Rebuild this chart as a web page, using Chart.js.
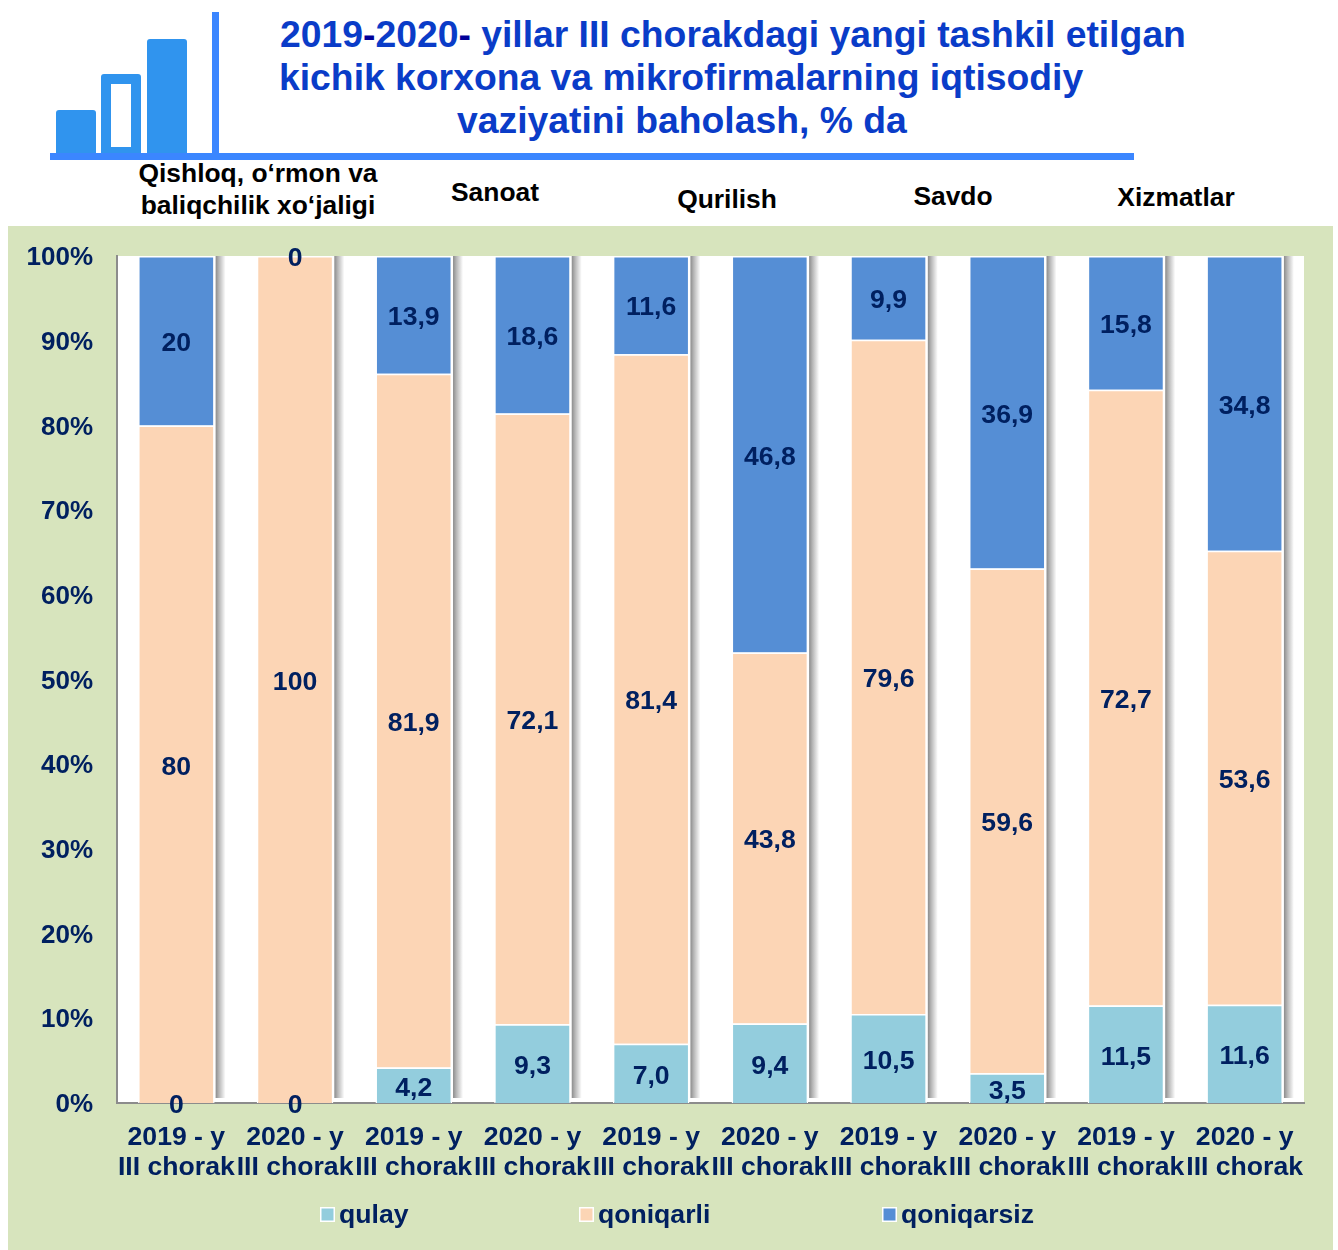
<!DOCTYPE html>
<html>
<head>
<meta charset="utf-8">
<script src="https://cdn.jsdelivr.net/npm/chart.js@4"></script>
<style>
html,body{margin:0;padding:0;background:#fff;width:1338px;height:1250px;overflow:hidden;font-family:"Liberation Sans",Arial,sans-serif}
#panel{position:absolute;left:8px;top:226px;width:1325px;height:1024px;background:#d7e4bd}
#wrap{position:absolute;left:8px;top:226px;width:1325px;height:1024px}
.t{position:absolute;white-space:nowrap;font-weight:bold;font-size:37.3px;line-height:43px;color:#0a3cc8}
.t b{color:#000099}
.h{position:absolute;white-space:nowrap;font-weight:bold;font-size:26.4px;line-height:32px;color:#000;text-align:center;transform:translateX(-50%)}
.l{position:absolute;background:#3b86ff}
.b{position:absolute;background:#3094ee;border-radius:3px 3px 0 0}
</style>
</head>
<body>
<div id="panel"></div>
<div class="b" style="left:56px;top:110px;width:40px;height:43px"></div>
<div class="b" style="left:101px;top:74px;width:40px;height:79px"></div>
<div style="position:absolute;left:111px;top:84px;width:20px;height:63px;background:#fff"></div>
<div class="b" style="left:147px;top:39px;width:40px;height:114px"></div>
<div class="l" style="left:212px;top:12px;width:7px;height:148px"></div>
<div class="l" style="left:50px;top:153px;width:1084px;height:7px"></div>
<div class="t" style="left:280px;top:13px">2019<b>-</b>2020<b>-</b> yillar III chorakdagi yangi tashkil etilgan</div>
<div class="t" style="left:279px;top:56px">kichik korxona va mikrofirmalarning iqtisodiy</div>
<div class="t" style="left:457px;top:99px">vaziyatini baholash, % da</div>
<div class="h" style="left:258px;top:157px">Qishloq, o‘rmon va<br>baliqchilik xo‘jaligi</div>
<div class="h" style="left:495px;top:176px">Sanoat</div>
<div class="h" style="left:727px;top:183px">Qurilish</div>
<div class="h" style="left:953px;top:180px">Savdo</div>
<div class="h" style="left:1176px;top:181px">Xizmatlar</div>
<div id="wrap"><canvas id="c" width="1325" height="1024" style="width:1325px;height:1024px;display:block"></canvas></div>
<script>
const yearLabels = ['2019 - y','2020 - y','2019 - y','2020 - y','2019 - y','2020 - y','2019 - y','2020 - y','2019 - y','2020 - y'];
const quarterLabel = 'III chorak';
const qulay      = [0, 0, 4.2, 9.3, 7.0, 9.4, 10.5, 3.5, 11.5, 11.6];
const qoniqarli  = [80, 100, 81.9, 72.1, 81.4, 43.8, 79.6, 59.6, 72.7, 53.6];
const qoniqarsiz = [20, 0, 13.9, 18.6, 11.6, 46.8, 9.9, 36.9, 15.8, 34.8];
const decimals   = [0, 0, 1, 1, 1, 1, 1, 1, 1, 1];
const yTicks     = [0, 10, 20, 30, 40, 50, 60, 70, 80, 90, 100];

const NAVY = '#002060';
const FAMILY = '"Liberation Sans", Arial, sans-serif';
const FONT = 'bold 26.6px ' + FAMILY;
const fmt = (v, i) => v.toFixed(decimals[i]).replace('.', ',');

const plotStyle = {
  id: 'plotStyle',
  beforeDraw(chart) {
    const a = chart.chartArea, c = chart.ctx;
    c.save(); c.fillStyle = '#fff';
    c.fillRect(a.left, a.top, a.right - a.left, a.bottom - a.top);
    c.restore();
    // nudge the value-axis labels down to sit on their ticks as in the reference
    const items = chart.scales.y.getLabelItems();
    if (!items._nudged) {
      items.forEach(it => { it.options.translation[1] += 2; });
      items._nudged = true;
    }
  },
  beforeDatasetsDraw(chart) {
    // soft shadow to the right of every column
    const c = chart.ctx, a = chart.chartArea;
    const n = chart.data.labels.length;
    const top = chart.getDatasetMeta(chart.data.datasets.length - 1);
    c.save();
    for (let i = 0; i < n; i++) {
      const b = top.data[i].getProps(['x', 'width', 'base', 'y']);
      const x0 = b.x + b.width / 2 + 1;
      const g = c.createLinearGradient(x0, 0, x0 + 10, 0);
      g.addColorStop(0, 'rgba(0,0,0,0.45)');
      g.addColorStop(0.35, 'rgba(0,0,0,0.28)');
      g.addColorStop(1, 'rgba(0,0,0,0)');
      c.fillStyle = g;
      c.fillRect(x0, a.top, 10, a.bottom - a.top - 5);
    }
    c.restore();
  },
  afterDraw(chart) {
    const c = chart.ctx;
    c.save();
    c.font = FONT; c.fillStyle = NAVY; c.textAlign = 'center'; c.textBaseline = 'middle';
    chart.data.datasets.forEach((ds, di) => {
      chart.getDatasetMeta(di).data.forEach((bar, i) => {
        const p = bar.getCenterPoint();
        c.fillText(fmt(ds.data[i], i), p.x, p.y + 3);
      });
    });
    // legend
    const xs = [320, 579, 882].map(x => x - 8);
    const y = 1215 - 226;
    chart.data.datasets.forEach((ds, di) => {
      c.fillStyle = '#fff';
      c.fillRect(xs[di], y - 8, 15, 15);
      c.fillStyle = ds.backgroundColor;
      c.fillRect(xs[di] + 1.5, y - 6.5, 12, 12);
      c.fillStyle = NAVY; c.textAlign = 'left';
      c.fillText(ds.label, xs[di] + 19, y + 1);
    });
    c.restore();
  }
};

new Chart(document.getElementById('c'), {
  type: 'bar',
  plugins: [plotStyle],
  data: {
    labels: yearLabels.map(y => [y, quarterLabel]),
    datasets: [
      { label: 'qulay', data: qulay, backgroundColor: '#93cddd' },
      { label: 'qoniqarli', data: qoniqarli, backgroundColor: '#fcd5b5' },
      { label: 'qoniqarsiz', data: qoniqarsiz, backgroundColor: '#558ed5' }
    ]
  },
  options: {
    responsive: false,
    animation: false,
    layout: { padding: { left: 0, right: 29, top: 30, bottom: 0 } },
    datasets: { bar: { barPercentage: 0.645, categoryPercentage: 1, borderColor: '#fff', borderWidth: 1.5 } },
    plugins: { legend: { display: false }, title: { display: false }, tooltip: { enabled: false } },
    scales: {
      x: {
        stacked: true,
        grid: { display: false, drawTicks: false },
        border: { color: '#8c8c8c', width: 2 },
        afterFit(s) { s.height = 147; s.paddingLeft = 0; s.paddingRight = 0; s.paddingTop = 0; s.paddingBottom = 0; },
        ticks: { autoSkip: false, maxRotation: 0, minRotation: 0, padding: 20, color: NAVY,
                 font: { family: FAMILY, size: 26.6, weight: 'bold', lineHeight: 1.13 } }
      },
      y: {
        stacked: true, min: 0, max: 100,
        afterFit(s) { s.width = 109; s.paddingTop = 0; s.paddingBottom = 0; s.paddingLeft = 0; s.paddingRight = 0; },
        afterBuildTicks(s) { s.ticks = yTicks.map(v => ({ value: v })); },
        grid: { display: false, drawTicks: false },
        border: { color: '#8c8c8c', width: 2 },
        ticks: { padding: 24, color: NAVY, callback: v => v + '%',
                 font: { family: FAMILY, size: 26, weight: 'bold' } }
      }
    }
  }
});
</script>
</body>
</html>
